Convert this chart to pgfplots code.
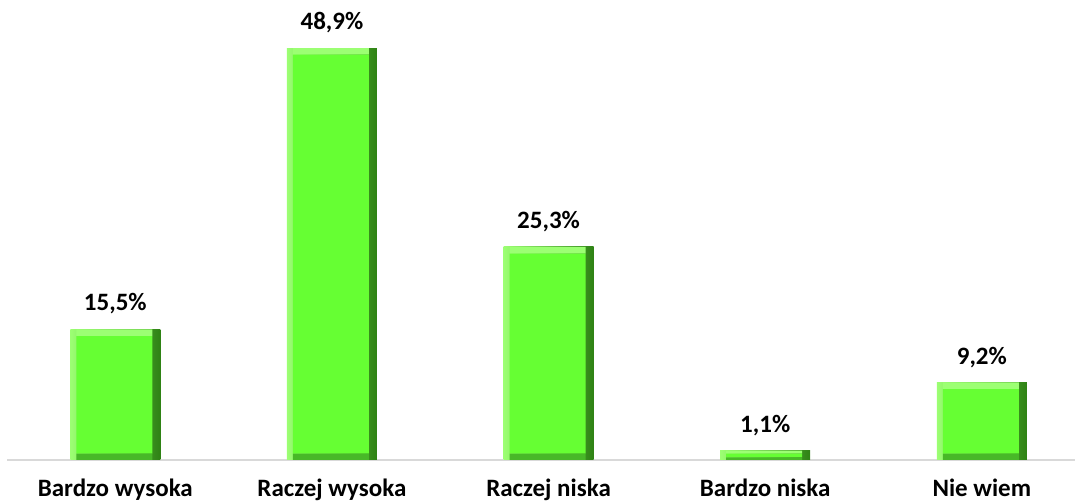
\documentclass[border=0pt]{standalone}
\usepackage{pgfplots}
\pgfplotsset{compat=1.18}
\usepackage{pgfplotstable}
\usepackage{fontspec}
\setmainfont{Carlito}
\definecolor{face}{HTML}{66FF33}
\definecolor{lite}{HTML}{9CFF73}
\definecolor{dark}{HTML}{2E8214}
\definecolor{bot}{HTML}{48B828}
\definecolor{axisgray}{HTML}{D9D9D9}
\pgfplotstableread{
x v base fc top
0 15.5 0.75 13.95 0.8
1 48.9 0.75 47.35 0.8
2 25.3 0.75 23.75 0.8
3 1.1 0.30 0.45 0.35
4 9.2 0.75 7.65 0.8
}\data
\begin{document}
\begin{tikzpicture}
\pgfplotsset{common/.style={scale only axis, width=534pt, height=230pt,
  xmin=-0.5, xmax=4.43, ymin=0, ymax=54.6, clip=false},
  bev/.style={bar shift=0pt, draw=none, left color=lite, middle color=face, right color=dark}}
\begin{axis}[common,
  ybar, bar width=45pt,
  axis x line=bottom, axis y line=none,
  x axis line style={draw=axisgray, line width=1pt, -},
  xtick={0,1,2,3,4}, major tick length=0pt,
  xticklabels={Bardzo wysoka, Raczej wysoka, Raczej niska, Bardzo niska, Nie wiem},
  xticklabel style={font=\fontsize{12.5pt}{14pt}\selectfont\bfseries, yshift=-6pt},
  /pgf/number format/assume math mode=true,
  nodes near coords={\pgfmathprintnumber[fixed, fixed zerofill, precision=1, use comma, assume math mode=true]{\pgfplotspointmeta}\%},
  every node near coord/.append style={font=\fontsize{12.5pt}{14pt}\selectfont\bfseries, yshift=4pt, black},
  ]
\addplot[bev] coordinates {(0,15.5)};
\addplot[bev] coordinates {(1,48.9)};
\addplot[bev] coordinates {(2,25.3)};
\addplot[bev] coordinates {(3,1.1)};
\addplot[bev] coordinates {(4,9.2)};
\coordinate (o) at (rel axis cs:0,0);
\end{axis}
\begin{axis}[common, ybar stacked, bar width=38pt, hide axis]
\addplot[bar shift=-0.5pt, draw=none, fill=bot] table[x=x, y=base] {\data};
\addplot[bar shift=-0.5pt, draw=none, fill=face] table[x=x, y=fc] {\data};
\addplot[bar shift=-0.5pt, draw=none, fill=lite] table[x=x, y=top] {\data};
\end{axis}
\pgfresetboundingbox
\path (o) ++(-3.5pt,-21pt) rectangle ++(537.5pt,251pt);
\end{tikzpicture}
\end{document}
